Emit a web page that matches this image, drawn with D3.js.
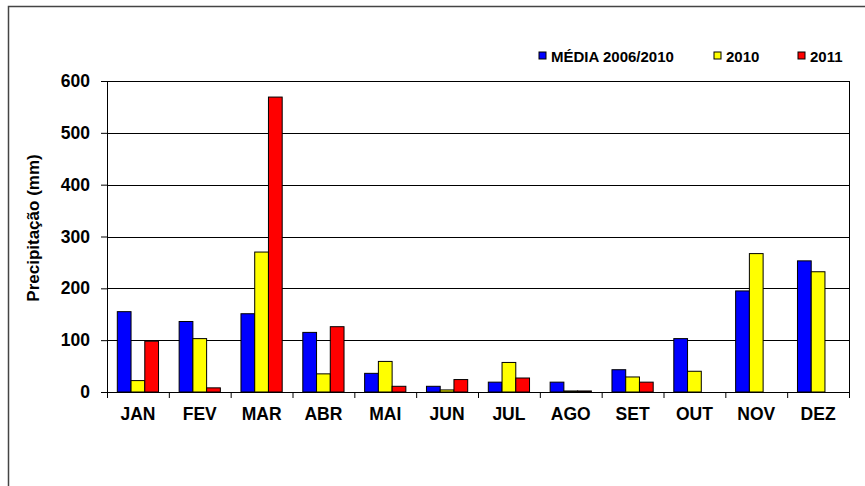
<!DOCTYPE html>
<html>
<head>
<meta charset="utf-8">
<script src="https://cdn.jsdelivr.net/npm/d3@7"></script>
<style>
  body { margin: 0; background: #fff; }
  svg text { font-family: "Liberation Sans", Arial, sans-serif; font-weight: bold; }
</style>
</head>
<body>
<svg id="chart"></svg>
<script>
const months = ['JAN','FEV','MAR','ABR','MAI','JUN','JUL','AGO','SET','OUT','NOV','DEZ'];
const seriesNames = ['MÉDIA 2006/2010', '2010', '2011'];
const media = [155, 136, 151, 115, 36, 11, 19, 19, 43, 103, 195, 253];
const y2010 = [22, 103, 270, 35, 59, 4, 57, 2, 29, 40, 267, 232];
const y2011 = [98, 8, 569, 126, 11, 24, 27, 2, 19, null, null, null];
const yTicks = [0, 100, 200, 300, 400, 500, 600];
const colors = ['#0000ff', '#ffff00', '#ff0000'];

class RainChart {
  constructor(config) {
    this.config = {
      parent: config.parent,
      width: config.width || 865,
      height: config.height || 486,
      margin: config.margin || {top: 81, right: 16, bottom: 94, left: 107}
    };
    this.init();
  }

  init() {
    let self = this;
    self.svg = d3.select(self.config.parent)
      .attr('width', self.config.width)
      .attr('height', self.config.height);

    // outer frame (top + left only visible)
    self.svg.append('path')
      .attr('d', `M8.5,${self.config.height} L8.5,6.5 L${self.config.width},6.5`)
      .attr('fill', 'none')
      .attr('stroke', '#444')
      .attr('stroke-width', 1.5);

    self.chart = self.svg.append('g')
      .attr('transform', `translate(${self.config.margin.left}, ${self.config.margin.top})`);

    self.inner_width = self.config.width - self.config.margin.left - self.config.margin.right;
    self.inner_height = self.config.height - self.config.margin.top - self.config.margin.bottom;

    self.xscale = d3.scaleBand().domain(months)
      .range([0, self.inner_width])
      .paddingInner(1/3).paddingOuter(1/6);
    self.xsub = d3.scaleBand().domain(seriesNames).range([0, self.xscale.bandwidth()]);
    self.xedge = d3.scaleLinear().domain([0, months.length]).range([0, self.inner_width]);
    self.yscale = d3.scaleLinear().domain([0, 600]).range([self.inner_height, 0]);
  }

  render() {
    let self = this;
    const rows = months.map((m, i) => ({month: m, values: [media[i], y2010[i], y2011[i]]}));

    // gridlines
    self.chart.append('g')
      .selectAll('line')
      .data(yTicks.filter(d => d > 0))
      .join('line')
      .attr('x1', 0).attr('x2', self.inner_width)
      .attr('y1', d => Math.round(self.yscale(d)) + 0.5)
      .attr('y2', d => Math.round(self.yscale(d)) + 0.5)
      .attr('stroke', '#000').attr('stroke-width', 1);

    // right border of plot
    self.chart.append('line')
      .attr('x1', self.inner_width + 0.5).attr('x2', self.inner_width + 0.5)
      .attr('y1', self.yscale(600)).attr('y2', self.inner_height)
      .attr('stroke', '#000');

    // bars
    self.chart.append('g')
      .selectAll('g')
      .data(rows)
      .join('g')
      .attr('transform', d => `translate(${self.xscale(d.month)},0)`)
      .selectAll('rect')
      .data(d => d.values.map((v, k) => ({name: seriesNames[k], value: v, k: k})).filter(d => d.value != null))
      .join('rect')
      .attr('x', d => self.xsub(d.name))
      .attr('y', d => self.yscale(d.value))
      .attr('width', self.xsub.bandwidth())
      .attr('height', d => self.inner_height - self.yscale(d.value))
      .attr('fill', d => colors[d.k])
      .attr('stroke', '#000')
      .attr('stroke-width', 1);

    // y axis
    const yaxis = d3.axisLeft(self.yscale).tickValues(yTicks).tickSize(6).tickSizeOuter(0).tickPadding(11);
    self.chart.append('g').call(yaxis)
      .call(g => g.selectAll('text').style('font-size', '17.5px').attr('fill', '#000'))
      .call(g => g.selectAll('line, path').attr('stroke', '#000'));

    // x axis: ticks at category edges, labels in the middle
    const xedges = d3.axisBottom(self.xedge).tickValues(d3.range(months.length + 1)).tickFormat('').tickSize(6).tickSizeOuter(0);
    self.chart.append('g')
      .attr('transform', `translate(0, ${self.inner_height})`)
      .call(xedges)
      .call(g => g.selectAll('line, path').attr('stroke', '#000'));

    const xlabels = d3.axisBottom(self.xscale).tickSize(0).tickPadding(16);
    self.chart.append('g')
      .attr('transform', `translate(0, ${self.inner_height})`)
      .call(xlabels)
      .call(g => g.select('.domain').remove())
      .call(g => g.selectAll('text').style('font-size', '17.5px').attr('fill', '#000'));

    // y title
    self.svg.append('text')
      .attr('transform', `translate(39, 228) rotate(-90)`)
      .attr('text-anchor', 'middle')
      .style('font-size', '17px')
      .text('Precipitação (mm)');

    // legend
    const legendX = [539, 714, 798];
    const lg = self.svg.append('g')
      .selectAll('g')
      .data(seriesNames)
      .join('g')
      .attr('transform', (d, i) => `translate(${legendX[i]}, 52)`);
    lg.append('rect')
      .attr('width', 7).attr('height', 7)
      .attr('fill', (d, i) => colors[i])
      .attr('stroke', '#000').attr('stroke-width', 1);
    lg.append('text')
      .attr('x', 12).attr('y', 9.5)
      .style('font-size', '15px')
      .text(d => d);
  }
}

const chart = new RainChart({parent: '#chart'});
chart.render();
</script>
</body>
</html>
